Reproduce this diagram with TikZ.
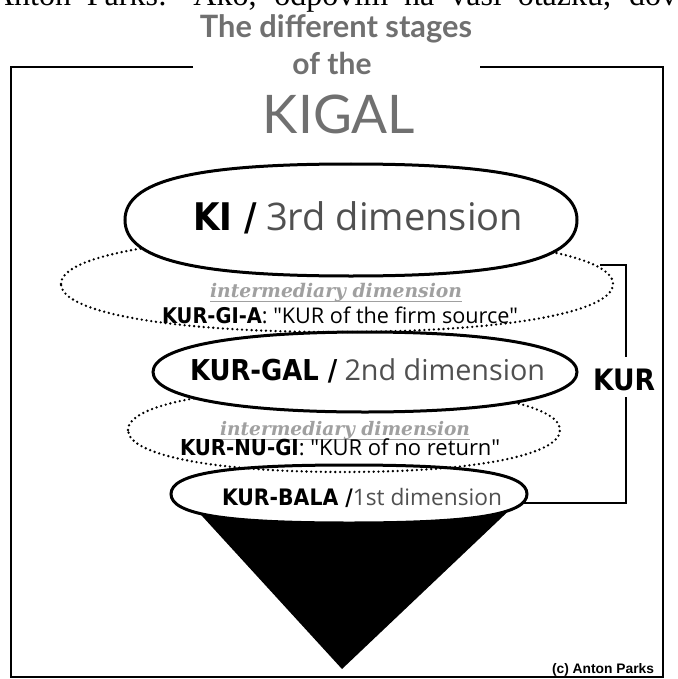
\documentclass[tikz,border=0pt]{standalone}
\usepackage{fontspec}
\usepackage{graphicx}
\setmainfont{Liberation Serif}
\newfontfamily\labf{DejaVu Sans Condensed}
\newfontfamily\humf{Open Sans}
\newfontfamily\titf{Lato}
\newfontfamily\intf{DejaVu Serif}
\newfontfamily\arf{Liberation Sans}
\definecolor{titlegray}{RGB}{112,112,112}
\definecolor{dimgray}{RGB}{80,80,80}
\definecolor{intgray}{RGB}{160,160,160}
\newcommand\fitw[2]{\resizebox{#1pt}{!}{#2}}
\newcommand\blob[5]{(#1-#3,#2) .. controls (#1-#3,#2-#5*#4) and (#1-#5*#3,#2-#4) .. (#1,#2-#4) .. controls (#1+#5*#3,#2-#4) and (#1+#3,#2-#5*#4) .. (#1+#3,#2) .. controls (#1+#3,#2+#5*#4) and (#1+#5*#3,#2+#4) .. (#1,#2+#4) .. controls (#1-#5*#3,#2+#4) and (#1-#3,#2+#5*#4) .. (#1-#3,#2) -- cycle}
\begin{document}
\begin{tikzpicture}[x=1pt,y=-1pt,
  ringline/.style={line width=3pt, draw=black, fill=white},
  dotring/.style={draw=black, line width=2.6pt, dash pattern=on 0pt off 4.8pt, line cap=round},
  framel/.style={line width=2.4pt, line cap=square},
  bracketl/.style={line width=1.6pt},
  txt/.style={inner sep=0pt, outer sep=0pt},
  titletxt/.style={txt, anchor=base, text=titlegray, font=\titf\bfseries},
]
\useasboundingbox (0,0) rectangle (677,679);
\clip (0,0) rectangle (677,679);
\fill[white] (0,0) rectangle (677,679);

% cut-off text line at the very top
\node[txt, anchor=base west, font=\fontsize{32}{32}\selectfont] (topline) at (-9,6)
  {\makebox[686pt][s]{Anton Parks: Ako, odpovím na vaši otázku, dov}};

% frame
\coordinate (fTL) at (11,67);
\coordinate (fTR) at (663,67);
\coordinate (fBL) at (11,677);
\coordinate (fBR) at (663,677);
\coordinate (gapL) at (193,67);
\coordinate (gapR) at (480,67);
\draw[framel] (gapL) -- (fTL) -- (fBL) -- (fBR) -- (fTR) -- (gapR);

% cone
\coordinate (coneL) at (192,505);
\coordinate (coneR) at (518,502);
\coordinate (apex) at (342,669);
\fill[black] (coneL) -- (apex) -- (coneR) -- cycle;

% rings, back to front
\path[ringline] \blob{349}{494}{178}{29}{0.7};
\path[dotring] \blob{344}{430}{216}{42}{0.6};
\path[ringline] \blob{365}{372}{212}{40}{0.62};
\path[dotring] \blob{337}{284}{276}{48}{0.6};
\path[ringline] \blob{351}{220}{226}{56}{0.7};

% KUR bracket
\coordinate (brT) at (600,265);
\coordinate (brTR) at (626,265);
\coordinate (kurTop) at (626,357);
\coordinate (kurBot) at (626,397);
\coordinate (brBR) at (626,503);
\coordinate (brB) at (523,503);
\draw[bracketl] (brT) -- (brTR) -- (kurTop);
\draw[bracketl] (kurBot) -- (brBR) -- (brB);
\node[txt, anchor=base, font=\labf\bfseries] (kur) at (624,390) {\fitw{62}{KUR}};

% title
\node[titletxt] (t1) at (336,38) {\fitw{272}{The different stages}};
\node[titletxt] (t2) at (332,75) {\fitw{79}{of the}};
\node[titletxt, font=\titf] (t3) at (339,133) {\fitw{152}{KIGAL}};

% ring labels
\node[txt, anchor=base west] (ki) at (193,230)
  {\fitw{330}{{\labf\bfseries KI /} {\humf\color{dimgray}3rd dimension}}};
\node[txt, anchor=base west, text=intgray] (int1) at (210,297)
  {\fitw{252}{\intf\bfseries\itshape intermediary dimension}};
\draw[intgray, line width=1pt] ([yshift=-4pt]int1.base west) -- ([yshift=-4pt]int1.base east);
\node[txt, anchor=base west] (kga) at (162,323)
  {\fitw{356}{{\labf\bfseries KUR-GI-A}{\humf: "KUR of the firm source"}}};
\node[txt, anchor=base west] (kgal) at (190,380)
  {\fitw{355}{{\labf\bfseries KUR-GAL /} {\humf\color{dimgray}2nd dimension}}};
\node[txt, anchor=base west, text=intgray] (int2) at (220,435)
  {\fitw{250}{\intf\bfseries\itshape intermediary dimension}};
\draw[intgray, line width=1pt] ([yshift=-4pt]int2.base west) -- ([yshift=-4pt]int2.base east);
\node[txt, anchor=base west] (kng) at (180,455)
  {\fitw{320}{{\labf\bfseries KUR-NU-GI}{\humf: "KUR of no return"}}};
\node[txt, anchor=base west] (kbala) at (222,505)
  {\fitw{280}{{\labf\bfseries KUR-BALA /}{\humf\color{dimgray}1st dimension}}};

\node[txt, anchor=base east, font=\arf\bfseries] (copy) at (654,673) {\fitw{102}{(c) Anton Parks}};
\end{tikzpicture}
\end{document}
